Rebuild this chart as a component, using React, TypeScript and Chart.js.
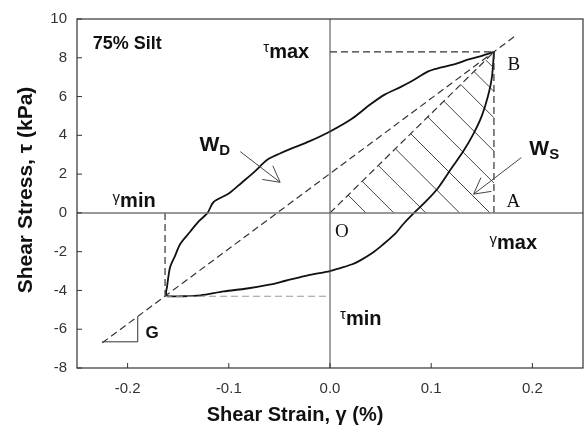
import React, { useEffect, useRef } from "react";
import { Chart, registerables } from "chart.js";

Chart.register(...registerables);

const SANS = '"Liberation Sans", Arial, Helvetica, sans-serif';
const SERIF = '"Liberation Serif", "Times New Roman", serif';

// axis ticks
const xTickValues = [-0.2, -0.1, 0, 0.1, 0.2];
const yTickValues = [-8, -6, -4, -2, 0, 2, 4, 6, 8, 10];

// hysteresis loop: lower (unloading) branch from B to the minimum point
const lowerX = [0.162, 0.16, 0.156, 0.15, 0.142, 0.132, 0.12, 0.107, 0.094, 0.083, 0.072, 0.064, 0.052, 0.041, 0.03, 0.022, 0.01, 0, -0.02, -0.044, -0.06, -0.082, -0.105, -0.128, -0.145, -0.161];
const lowerY = [8.3, 7.0, 6.0, 5.0, 4.1, 3.2, 2.3, 1.3, 0.55, 0, -0.6, -1.1, -1.65, -2.1, -2.45, -2.65, -2.85, -3.0, -3.2, -3.5, -3.7, -3.9, -4.05, -4.25, -4.3, -4.3];
// upper (loading) branch from the minimum point back to B
const upperX = [-0.161, -0.162, -0.161, -0.16, -0.158, -0.153, -0.148, -0.138, -0.13, -0.121, -0.115, -0.1, -0.087, -0.075, -0.062, -0.05, -0.039, -0.02, 0, 0.022, 0.04, 0.054, 0.07, 0.081, 0.097, 0.11, 0.125, 0.136, 0.15, 0.162];
const upperY = [-4.3, -4.1, -3.8, -3.4, -2.8, -2.2, -1.6, -0.96, -0.45, 0, 0.56, 1.0, 1.57, 2.1, 2.74, 3.05, 3.3, 3.7, 4.2, 4.87, 5.6, 6.1, 6.5, 6.8, 7.3, 7.5, 7.7, 7.9, 8.1, 8.3];

// key points
const gammaMax = 0.162;
const tauMax = 8.3;
const gammaMin = -0.163;
const tauMin = -4.3;

// secant (shear modulus) line
const secantX = [-0.225, 0.185];
const secantY = [-6.7, 9.2];

// G slope triangle
const triX = [-0.225, -0.19, -0.19];
const triY = [-6.65, -6.65, -5.35];

// hatch lines: intercepts with the tau = 0 line
const hatchBaseX = [0.0355, 0.063, 0.0946, 0.128, 0.158, 0.1915, 0.223, 0.256, 0.282, 0.305];

const pts = (xs: number[], ys: number[]) => xs.map((v, i) => ({ x: v, y: ys[i] }));

type Run = { t: string; f: string; dy?: number };
const textLabels: { x: number; y: number; runs: Run[] }[] = [
  { x: -0.2345, y: 8.45, runs: [{ t: "75% Silt", f: `bold 18px ${SANS}` }] },
  { x: -0.066, y: 7.99, runs: [{ t: "τ", f: `15px ${SANS}`, dy: -6 }, { t: "max", f: `bold 20px ${SANS}` }] },
  { x: -0.2148, y: 0.305, runs: [{ t: "γ", f: `15px ${SANS}`, dy: -5 }, { t: "min", f: `bold 20px ${SANS}` }] },
  { x: 0.1576, y: -1.88, runs: [{ t: "γ", f: `15px ${SANS}`, dy: -5 }, { t: "max", f: `bold 20px ${SANS}` }] },
  { x: 0.00985, y: -5.8, runs: [{ t: "τ", f: `15px ${SANS}`, dy: -6 }, { t: "min", f: `bold 20px ${SANS}` }] },
  { x: -0.129, y: 3.2, runs: [{ t: "W", f: `bold 21px ${SANS}` }, { t: "D", f: `bold 15px ${SANS}`, dy: 4 }] },
  { x: 0.197, y: 3.0, runs: [{ t: "W", f: `bold 21px ${SANS}` }, { t: "S", f: `bold 15px ${SANS}`, dy: 4 }] },
  { x: 0.1754, y: 7.38, runs: [{ t: "B", f: `19px ${SERIF}` }] },
  { x: 0.1744, y: 0.305, runs: [{ t: "A", f: `19px ${SERIF}` }] },
  { x: 0.0049, y: -1.22, runs: [{ t: "O", f: `19px ${SERIF}` }] },
  { x: -0.1823, y: -6.46, runs: [{ t: "G", f: `bold 17px ${SANS}` }] },
];

// arrows: tail -> tip
const arrows = [
  { x1: -0.0887, y1: 3.16, x2: -0.0493, y2: 1.58 },
  { x1: 0.189, y1: 2.85, x2: 0.1419, y2: 0.967 },
];

const annotPlugin = {
  id: "annot",
  beforeDatasetsDraw(chart: any) {
    const { ctx, scales } = chart;
    const x = scales.x, y = scales.y;
    const ox = x.getPixelForValue(0), oy = y.getPixelForValue(0);
    const bx = x.getPixelForValue(gammaMax), by = y.getPixelForValue(tauMax);
    ctx.save();
    ctx.strokeStyle = "#444";
    ctx.lineWidth = 1;
    for (const hb of hatchBaseX) {
      const xb = x.getPixelForValue(hb);
      const u = (xb - ox) / ((bx - ox) - (by - oy));
      if (u <= 0 || u >= 1) continue;
      const sx = ox + u * (bx - ox), sy = oy + u * (by - oy);
      let ex: number, ey: number;
      if (xb <= bx) { ex = xb; ey = oy; } else { ex = bx; ey = oy - (xb - bx); }
      ctx.beginPath();
      ctx.moveTo(sx, sy);
      ctx.lineTo(ex, ey);
      ctx.stroke();
    }
    ctx.restore();
  },
  afterDraw(chart: any) {
    const { ctx, chartArea: ca, scales } = chart;
    const x = scales.x, y = scales.y;
    ctx.save();
    // frame
    ctx.strokeStyle = "#333";
    ctx.lineWidth = 1.2;
    ctx.strokeRect(ca.left, ca.top, ca.right - ca.left, ca.bottom - ca.top);
    // inside tick marks
    ctx.lineWidth = 1;
    ctx.beginPath();
    for (const t of x.ticks) {
      const px = x.getPixelForValue(t.value);
      ctx.moveTo(px, ca.bottom);
      ctx.lineTo(px, ca.bottom - 5);
    }
    for (const t of y.ticks) {
      const py = y.getPixelForValue(t.value);
      ctx.moveTo(ca.left, py);
      ctx.lineTo(ca.left + 5, py);
    }
    ctx.stroke();

    // arrows
    ctx.strokeStyle = "#444";
    ctx.lineWidth = 1;
    for (const a of arrows) {
      const x1 = x.getPixelForValue(a.x1), y1 = y.getPixelForValue(a.y1);
      const x2 = x.getPixelForValue(a.x2), y2 = y.getPixelForValue(a.y2);
      const ang = Math.atan2(y1 - y2, x1 - x2);
      const hl = 18, ha = 0.5;
      ctx.beginPath();
      ctx.moveTo(x1, y1);
      ctx.lineTo(x2, y2);
      ctx.moveTo(x2 + hl * Math.cos(ang + ha), y2 + hl * Math.sin(ang + ha));
      ctx.lineTo(x2, y2);
      ctx.lineTo(x2 + hl * Math.cos(ang - ha), y2 + hl * Math.sin(ang - ha));
      ctx.stroke();
    }

    // text labels
    ctx.fillStyle = "#111";
    ctx.textAlign = "left";
    ctx.textBaseline = "alphabetic";
    for (const l of textLabels) {
      let px = x.getPixelForValue(l.x);
      const py = y.getPixelForValue(l.y);
      for (const r of l.runs) {
        ctx.font = r.f;
        ctx.fillText(r.t, px, py + (r.dy || 0));
        px += ctx.measureText(r.t).width;
      }
    }

    // axis titles
    ctx.font = `bold 20px ${SANS}`;
    ctx.textAlign = "center";
    ctx.fillText("Shear Strain, γ (%)", 295, 421);
    ctx.save();
    ctx.translate(32, 190);
    ctx.rotate(-Math.PI / 2);
    ctx.font = `bold 21px ${SANS}`;
    ctx.fillText("Shear Stress, τ (kPa)", 0, 0);
    ctx.restore();
    ctx.restore();
  },
};

export default function App() {
  const ref = useRef<HTMLCanvasElement | null>(null);
  useEffect(() => {
    document.body.style.margin = "0";
    const canvas = ref.current;
    if (!canvas) return;
    const dashed = (data: any, color = "#333") => ({
      data,
      showLine: true,
      borderColor: color,
      borderWidth: 1.2,
      borderDash: [7, 4],
      pointRadius: 0,
      fill: false,
    });
    const chart = new Chart(canvas, {
      type: "scatter",
      data: {
        datasets: [
          { data: [{ x: -0.25, y: 0 }, { x: 0.25, y: 0 }], showLine: true, borderColor: "#777", borderWidth: 1.5, pointRadius: 0 },
          { data: [{ x: 0, y: -8 }, { x: 0, y: 10 }], showLine: true, borderColor: "#444", borderWidth: 1, pointRadius: 0 },
          dashed(pts(secantX, secantY)),
          dashed([{ x: 0, y: 0 }, { x: gammaMax, y: tauMax }]),
          dashed([{ x: 0, y: tauMax }, { x: gammaMax, y: tauMax }]),
          dashed([{ x: gammaMax, y: 0 }, { x: gammaMax, y: tauMax }]),
          dashed([{ x: gammaMin, y: 0 }, { x: gammaMin, y: tauMin }]),
          dashed([{ x: gammaMin, y: tauMin }, { x: 0, y: tauMin }], "#999"),
          { data: pts(triX, triY), showLine: true, borderColor: "#333", borderWidth: 1, pointRadius: 0 },
          { data: pts(lowerX, lowerY), showLine: true, borderColor: "#111", borderWidth: 1.8, pointRadius: 0, tension: 0.3 },
          { data: pts(upperX, upperY), showLine: true, borderColor: "#111", borderWidth: 1.8, pointRadius: 0, tension: 0.3 },
        ],
      },
      options: {
        animation: false,
        responsive: false,
        devicePixelRatio: 1,
        layout: { padding: { top: 14, right: 2, left: 0, bottom: 0 } },
        plugins: { legend: { display: false }, tooltip: { enabled: false } },
        scales: {
          x: {
            type: "linear",
            min: -0.25,
            max: 0.25,
            grid: { display: false, drawTicks: false },
            border: { display: false },
            afterBuildTicks: (axis: any) => { axis.ticks = xTickValues.map((v) => ({ value: v })); },
            afterFit: (scale: any) => { scale.height = 69; },
            ticks: {
              color: "#333",
              padding: 12,
              font: { family: SANS, size: 15 },
              callback: (v: any) => Number(v).toFixed(1),
            },
          },
          y: {
            type: "linear",
            min: -8,
            max: 10,
            grid: { display: false, drawTicks: false },
            border: { display: false },
            afterBuildTicks: (axis: any) => { axis.ticks = yTickValues.map((v) => ({ value: v })); },
            afterFit: (scale: any) => { scale.width = 77; },
            ticks: {
              color: "#333",
              padding: 10,
              font: { family: SANS, size: 15 },
              callback: (v: any) => String(v),
            },
          },
        },
      },
      plugins: [annotPlugin],
    } as any);
    return () => chart.destroy();
  }, []);
  return (
    <div style={{ width: 585, height: 437, background: "#fff" }}>
      <canvas ref={ref} width={585} height={437} style={{ display: "block" }} />
    </div>
  );
}
